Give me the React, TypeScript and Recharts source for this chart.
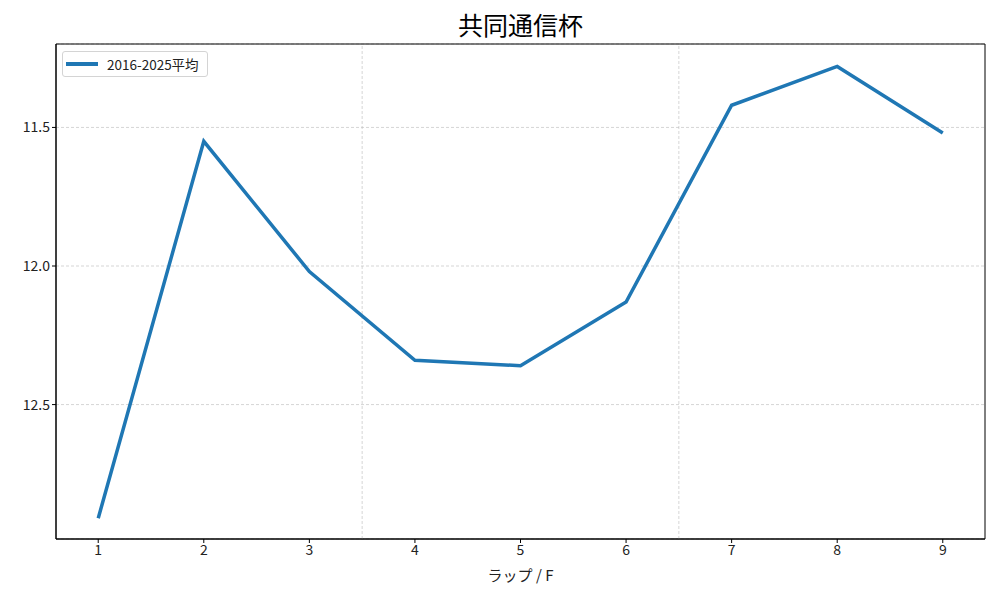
import React from "react";
import {
  CartesianGrid,
  Line,
  LineChart,
  ReferenceArea,
  ReferenceLine,
  XAxis,
  YAxis,
} from "recharts";

if (typeof document !== "undefined") {
  document.body.style.margin = "0";
}

const laps = [1, 2, 3, 4, 5, 6, 7, 8, 9];
const lapTimes = [12.91, 11.55, 12.02, 12.34, 12.36, 12.13, 11.42, 11.28, 11.52];
const yTicks = [11.5, 12.0, 12.5];
const sectionBreaks = [3.5, 6.5];
const seriesName = "2016-2025平均";
const title = "共同通信杯";

const FONT = '"Noto Sans CJK JP", "Noto Sans", sans-serif';
const BLUE = "#1f77b4";

const chartData = laps.map((lap, i) => ({ lap, time: lapTimes[i] }));

const X_DOMAIN: [number, number] = [0.6, 9.4];
const Y_DOMAIN: [number, number] = [11.199, 12.985];

function LegendBox() {
  return (
    <div
      style={{
        position: "absolute",
        left: 62,
        top: 51,
        display: "flex",
        alignItems: "center",
        border: "1px solid #d4d4d4",
        borderRadius: 3,
        background: "#fff",
        height: 24,
        padding: "0 8px 0 3px",
        fontFamily: FONT,
        fontSize: 13.5,
        color: "#222",
      }}
    >
      <span
        style={{
          display: "inline-block",
          width: 32,
          height: 4,
          background: BLUE,
          marginRight: 9,
        }}
      />
      {seriesName}
    </div>
  );
}

export default function App() {
  return (
    <div style={{ position: "relative", width: 1000, height: 600, background: "#fff" }}>
      <div
        style={{
          position: "absolute",
          left: 56,
          width: 929,
          top: 6,
          textAlign: "center",
          fontFamily: FONT,
          fontSize: 25,
          color: "#000",
          lineHeight: "36px",
        }}
      >
        {title}
      </div>
      <LineChart
        width={1000}
        height={600}
        data={chartData}
        margin={{ top: 44, right: 15, left: 10, bottom: 21 }}
        style={{ fontFamily: FONT }}
      >
        <CartesianGrid
          vertical={false}
          stroke="#b8b8b8"
          strokeWidth={0.6}
          strokeDasharray="3 2"
        />
        {sectionBreaks.map((x) => (
          <ReferenceLine
            key={x}
            x={x}
            stroke="#b8b8b8"
            strokeWidth={0.6}
            strokeDasharray="3 2"
          />
        ))}
        <XAxis
          dataKey="lap"
          type="number"
          domain={X_DOMAIN}
          ticks={laps}
          allowDataOverflow
          height={40}
          tickSize={4}
          tickLine={{ stroke: "#000" }}
          axisLine={{ stroke: "#000" }}
          tick={{ fill: "#222", fontSize: 14 }}
          label={{
            value: "ラップ / F",
            position: "insideBottom",
            offset: -2,
            fill: "#222",
            fontSize: 15,
          }}
        />
        <YAxis
          type="number"
          reversed
          domain={Y_DOMAIN}
          ticks={yTicks}
          allowDataOverflow
          width={46}
          tickSize={4}
          tickLine={{ stroke: "#000" }}
          axisLine={{ stroke: "#000" }}
          tick={{ fill: "#222", fontSize: 14 }}
          tickFormatter={(v: number) => v.toFixed(1)}
        />
        <ReferenceArea
          x1={X_DOMAIN[0]}
          x2={X_DOMAIN[1]}
          y1={Y_DOMAIN[0]}
          y2={Y_DOMAIN[1]}
          fill="none"
          stroke="#000"
          strokeWidth={1}
        />
        <Line
          type="linear"
          dataKey="time"
          name={seriesName}
          stroke={BLUE}
          strokeWidth={3.5}
          dot={false}
          activeDot={false}
          isAnimationActive={false}
        />
      </LineChart>
      <LegendBox />
    </div>
  );
}
